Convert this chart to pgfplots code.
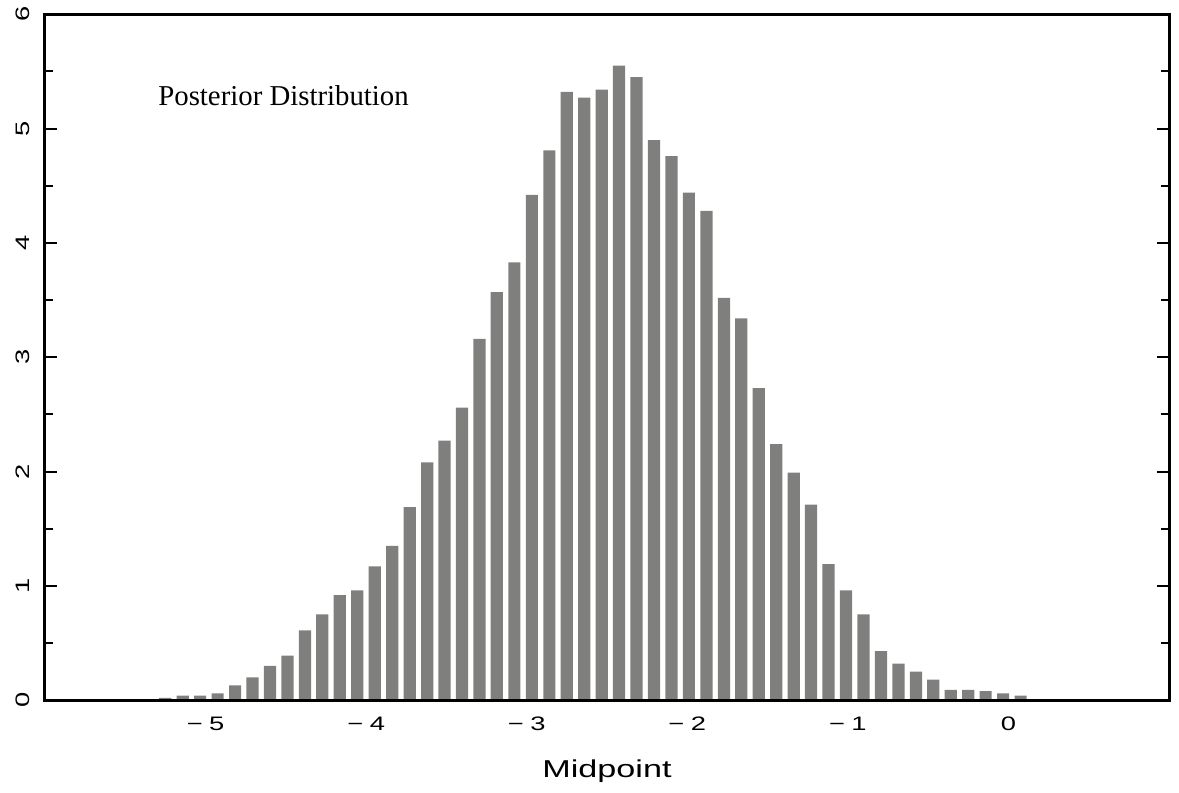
\documentclass[border=0pt]{standalone}
\usepackage{fontspec}
\setmainfont{Liberation Serif}
\newfontfamily\tickfont[FakeStretch=1.4]{Liberation Sans}
\usepackage{pgfplots}
\pgfplotsset{compat=1.18}
\usepackage{pgfplotstable}
\definecolor{bargray}{RGB}{127,128,126}

\pgfplotstableread{
mid dens
-5.251 0.02
-5.142 0.04
-5.034 0.04
-4.925 0.06
-4.816 0.13
-4.708 0.20
-4.599 0.30
-4.490 0.39
-4.381 0.61
-4.273 0.75
-4.164 0.92
-4.055 0.96
-3.947 1.17
-3.838 1.35
-3.729 1.69
-3.620 2.08
-3.512 2.27
-3.403 2.56
-3.294 3.16
-3.186 3.57
-3.077 3.83
-2.968 4.42
-2.859 4.81
-2.751 5.32
-2.642 5.27
-2.533 5.34
-2.425 5.55
-2.316 5.45
-2.207 4.90
-2.098 4.76
-1.990 4.44
-1.881 4.28
-1.772 3.52
-1.664 3.34
-1.555 2.73
-1.446 2.24
-1.337 1.99
-1.229 1.71
-1.120 1.19
-1.011 0.96
-0.903 0.75
-0.794 0.43
-0.685 0.32
-0.576 0.25
-0.468 0.18
-0.359 0.09
-0.250 0.09
-0.142 0.08
-0.033 0.06
0.076 0.04
}\posterior

\begin{document}
\begin{tikzpicture}
\begin{axis}[
  scale only axis,
  width=562pt, height=343pt,
  xmin=-6, xmax=1, ymin=0, ymax=6,
  axis line style={line width=1.5pt},
  axis on top,
  xtick={-5,-4,-3,-2,-1,0},
  xticklabels={−\,\,5,−\,\,4,−\,\,3,−\,\,2,−\,\,1,0},
  x tick style={draw=none},
  xticklabel style={font=\tickfont\fontsize{9.75pt}{10pt}\selectfont, yshift=-5pt},
  ytick={0,1,2,3,4,5,6},
  yticklabels={0,1,2,3,4,5,6},
  minor y tick num=1,
  tick align=inside,
  ytick pos=both,
  major tick length=6pt,
  minor tick length=4pt,
  y tick style={line width=1pt, black},
  yticklabel shift=4pt,
  yticklabel style={font=\tickfont\fontsize{9.75pt}{10pt}\selectfont, rotate=90, anchor=south},
  xlabel={Midpoint},
  xlabel style={font=\tickfont\fontsize{12.2pt}{13pt}\selectfont, yshift=-7.5pt},
]
\addplot[ybar, bar width=0.076, fill=bargray, draw=none] table[x=mid, y=dens] {\posterior};
\node[anchor=base west, inner sep=0pt, font=\fontsize{14.4pt}{15pt}\selectfont] at (rel axis cs:0.1005,0.867) {Posterior Distribution};
\end{axis}
\path (current axis.south west) ++(-22.5pt,-46pt) coordinate (bbsw);
\path (current axis.north east) ++(5pt,6.5pt) coordinate (bbne);
\useasboundingbox (bbsw) rectangle (bbne);
\end{tikzpicture}
\end{document}
